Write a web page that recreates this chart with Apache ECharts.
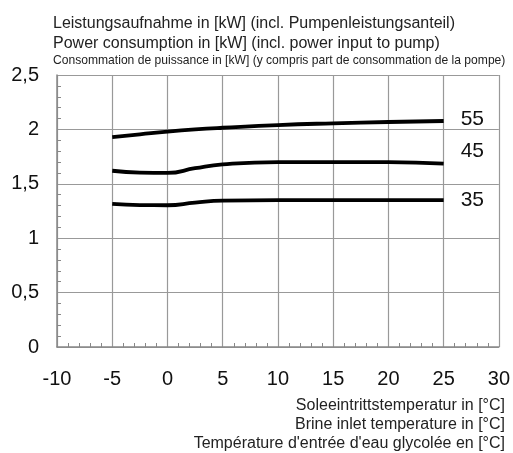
<!DOCTYPE html>
<html><head><meta charset="utf-8">
<script src="https://cdn.jsdelivr.net/npm/echarts@6/dist/echarts.min.js"></script>
<style>html,body{margin:0;padding:0;background:#fff}#c{width:513px;height:453px}</style>
</head><body><div id="c"></div>
<script>
const temps = [-5, -2.5, 0, 2.5, 5, 10, 15, 20, 25];
const s55 = [1.93, 1.955, 1.98, 2.0, 2.015, 2.04, 2.056, 2.068, 2.077];
const s45 = [1.62, 1.603, 1.60, 1.643, 1.678, 1.70, 1.70, 1.70, 1.685];
const s35 = [1.315, 1.304, 1.303, 1.327, 1.345, 1.35, 1.35, 1.35, 1.35];
const seriesNames = ['55', '45', '35'];
const labelOffsets = [[17, -2], [17, -12], [17, 0]];
const titleLines = ['Leistungsaufnahme in [kW] (incl. Pumpenleistungsanteil)', 'Power consumption in [kW] (incl. power input to pump)', 'Consommation de puissance in [kW] (y compris part de consommation de la pompe)'];
const xTitleLines = ['Soleeintrittstemperatur in [°C]', 'Brine inlet temperature in [°C]', "Température d'entrée d'eau glycolée en [°C]"];

const chart = echarts.init(document.getElementById('c'), null, {renderer: 'canvas'});
const font = 'Liberation Sans, Arial, sans-serif';
function mk(name, vals, off) {
  return {
    name: name, type: 'line', smooth: 0.5, symbol: 'none',
    data: temps.map((t, i) => [t, vals[i]]),
    lineStyle: {color: '#000', width: 3.8},
    endLabel: {show: true, formatter: name, color: '#111', fontSize: 21, fontFamily: font, offset: off, distance: 0}
  };
}
const ts = (size, fam) => ({fontSize: size, fontWeight: 'normal', color: '#222', fontFamily: fam || font});
chart.setOption({
  animation: false,
  backgroundColor: '#fff',
  grid: {left: 57, right: 11, top: 75, bottom: 106},
  title: [
    {text: titleLines[0], left: 48, top: 11, textStyle: ts(16)},
    {text: titleLines[1], left: 48, top: 31, textStyle: ts(16)},
    {text: titleLines[2], left: 48, top: 50, textStyle: ts(12.1, 'Liberation Sans Narrow, Arial Narrow, sans-serif')},
    {text: xTitleLines[0], right: 3, top: 393, textStyle: ts(16)},
    {text: xTitleLines[1], right: 3, top: 412, textStyle: ts(16)},
    {text: xTitleLines[2], right: 3, top: 431, textStyle: ts(16)}
  ],
  xAxis: {
    type: 'value', min: -10, max: 30, interval: 5,
    axisLine: {show: true, onZero: false, lineStyle: {color: '#888', width: 1.5}},
    axisTick: {show: false, inside: true},
    minorTick: {show: true, splitNumber: 5, length: 4, lineStyle: {color: '#888'}},
    splitLine: {show: true, lineStyle: {color: '#999', width: 1.2}},
    axisLabel: {fontSize: 20, color: '#111', fontFamily: font, margin: 22}
  },
  yAxis: {
    type: 'value', min: 0, max: 2.5, interval: 0.5,
    axisLine: {show: true, onZero: false, lineStyle: {color: '#888', width: 1.5}},
    axisTick: {show: false, inside: true},
    minorTick: {show: true, splitNumber: 5, length: 4, lineStyle: {color: '#888'}},
    splitLine: {show: true, lineStyle: {color: '#999', width: 1.2}},
    axisLabel: {fontSize: 20, color: '#111', fontFamily: font, margin: 18,
      formatter: v => String(v).replace('.', ',')}
  },
  series: [mk(seriesNames[0], s55, labelOffsets[0]), mk(seriesNames[1], s45, labelOffsets[1]), mk(seriesNames[2], s35, labelOffsets[2])]
});
</script></body></html>
